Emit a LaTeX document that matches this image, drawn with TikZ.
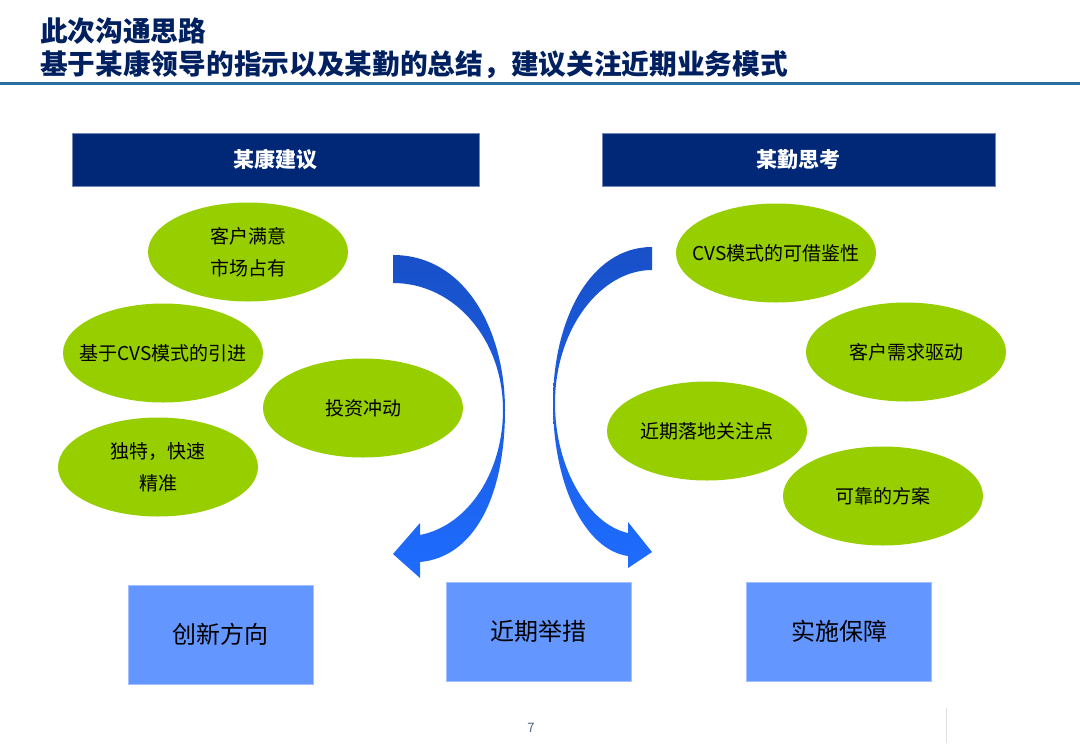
\documentclass[tikz,border=0pt]{standalone}
\usepackage{fontspec}
\setmainfont{Noto Sans CJK SC}
\usetikzlibrary{shapes.geometric}
\definecolor{navy}{RGB}{0,40,118}
\definecolor{leaf}{RGB}{150,206,0}
\definecolor{sky}{RGB}{100,150,255}
\definecolor{titleblue}{RGB}{0,32,96}
\definecolor{rulecol}{RGB}{40,110,160}
\definecolor{arrowtop}{RGB}{24,80,200}
\definecolor{arrowbot}{RGB}{30,108,255}

\begin{document}
\begin{tikzpicture}[x=1pt, y=-1pt,
    idea/.style={ellipse, fill=leaf, minimum width=200pt, minimum height=99pt, inner xsep=-16pt, inner ysep=0pt, align=center, font=\fontsize{19}{32}\selectfont},
    head/.style={rectangle, fill=navy, draw=navy!55!white, minimum height=53pt, text=white, font=\fontsize{21}{25}\selectfont\bfseries},
    act/.style={rectangle, fill=sky, draw=sky!60!white, minimum width=185pt, minimum height=99pt, font=\fontsize{24}{28}\selectfont}]
    \useasboundingbox (0,0) rectangle (1080,748);

    % title
    \node[anchor=west, align=left, text=titleblue, inner sep=0pt, font=\fontsize{27.7}{33}\selectfont\bfseries] (title) at (40,48) {此次沟通思路\\基于某康领导的指示以及某勤的总结，建议关注近期业务模式};
    \draw[rulecol, line width=3pt] (0,83.5) -- (1080,83.5);

    % headers
    \node[head, minimum width=407pt] (kang) at (275.5,159.5) {某康建议};
    \node[head, minimum width=393pt] (qin) at (798.5,159.5) {某勤思考};

    % left ideas
    \node[idea] (satis) at (248,252) {客户满意\\市场占有};
    \node[idea] (cvsin) at (163,353) {基于CVS模式的引进};
    \node[idea] (invest) at (363,408) {投资冲动};
    \node[idea] (fast) at (158,467) {独特，快速\\精准};

    % right ideas
    \node[idea] (cvsref) at (776,253) {CVS模式的可借鉴性};
    \node[idea] (demand) at (906,352) {客户需求驱动};
    \node[idea] (focus) at (707,431) {近期落地关注点};
    \node[idea] (plan) at (883,496) {可靠的方案};

    % curved arrows
    \shade[top color=arrowtop, bottom color=arrowbot]
      (393,255) .. controls (465,255) and (505,330) .. (505,410)
      .. controls (505,495) and (475,557) .. (420,562) -- (420,578) -- (393,554) -- (420,523) -- (420,535)
      .. controls (470,525) and (503,470) .. (503,410)
      .. controls (503,340) and (455,283) .. (393,283) -- cycle;
    \shade[top color=arrowtop, bottom color=arrowbot]
      (652,247) .. controls (590,247) and (553,320) .. (553,403)
      .. controls (553,485) and (585,550) .. (628,556) -- (628,568) -- (652,552) -- (628,522) -- (628,533)
      .. controls (590,525) and (555,470) .. (555,403)
      .. controls (555,330) and (600,270) .. (652,270) -- cycle;

    % actions
    \node[act] (innov) at (220.5,634.5) {创新方向};
    \node[act] (near) at (538.5,631.5) {近期举措};
    \node[act] (guard) at (839,631.5) {实施保障};

    % footer
    \node[text=titleblue!70!white, font=\fontsize{13}{15}\selectfont] (page) at (531,728) {7};
    \draw[black!12] (946,708) -- (946,743);
\end{tikzpicture}
\end{document}
